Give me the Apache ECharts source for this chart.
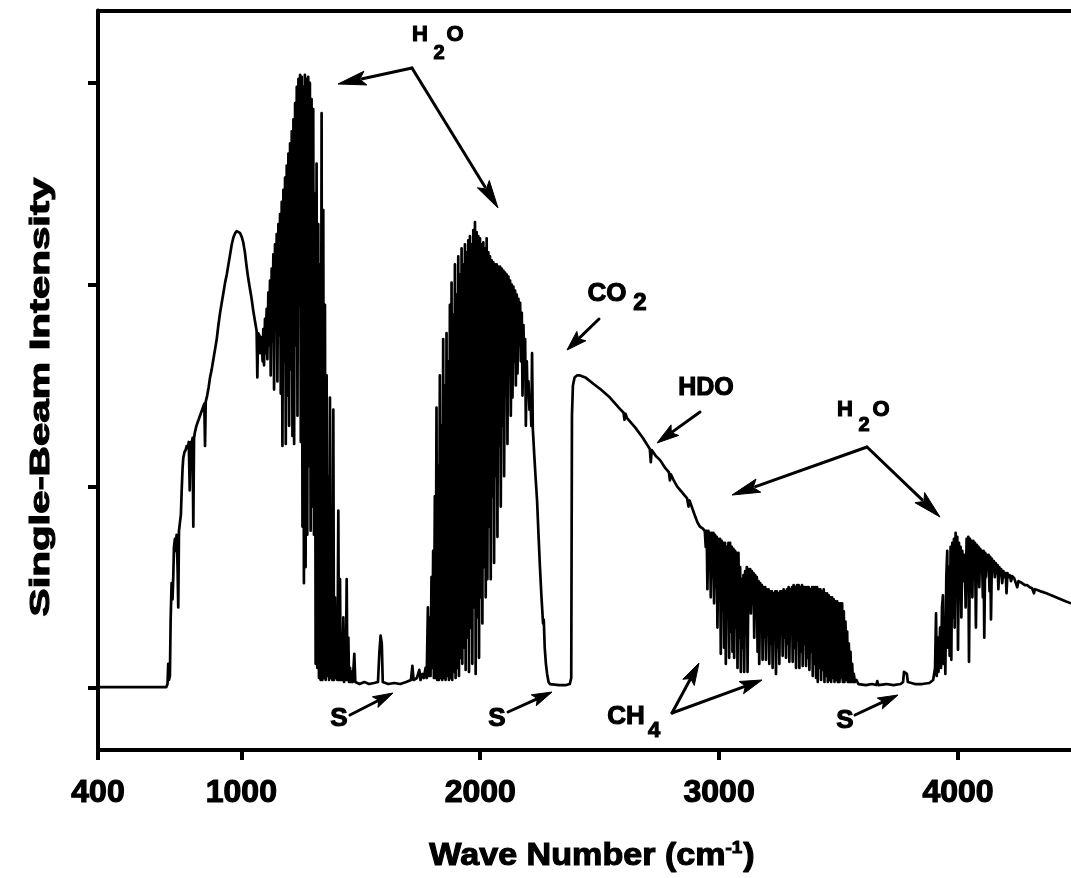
<!DOCTYPE html>
<html>
<head>
<meta charset="utf-8">
<script src="https://cdn.jsdelivr.net/npm/echarts@6/dist/echarts.min.js"></script>
<style>
html,body{margin:0;padding:0;background:#fff;}
#chart{width:1071px;height:878px;}
</style>
</head>
<body>
<div id="chart"></div>
<script>
// ---- data: [wavenumber (cm-1), single-beam intensity] ----
var xTicks = [400, 1000, 2000, 3000, 4000];
var yTicks = [0, 1, 2, 3];

var humpRise = [[400,0.005],[560,0.005],[686,0.005],[691,0.02],[694,0.12],[697,0.04],[701,0.06],[704,0.33],[708,0.52],[712,0.44],[715,0.55],[718,0.70],[722,0.74],[726,0.68],[729,0.76],[733,0.60],[736,0.40],[739,0.78],[743,0.82],[747,0.86],[750,0.97],[754,1.09],[757,1.14],[762,1.17],[767,1.18],[771,1.20],[776,1.19],[780,1.22],[784,0.98],[788,1.22],[792,1.21],[796,1.24],[799,0.80],[802,1.24],[806,1.27],[812,1.30],[818,1.32],[824,1.34],[830,1.36],[836,1.38],[842,1.40],[845,1.41],[848,1.20],[851,1.42],[857,1.45],[863,1.49],[869,1.54],[876,1.58],[883,1.63],[890,1.68],[897,1.73],[904,1.80],[911,1.86],[918,1.91],[925,1.96],[932,2.01],[939,2.05],[946,2.10],[953,2.15],[960,2.20],[967,2.235],[974,2.255],[981,2.265],[988,2.265],[995,2.255],[1002,2.235],[1008,2.21],[1015,2.16],[1022,2.09],[1029,2.03],[1036,1.98],[1043,1.93],[1050,1.87],[1057,1.82],[1064,1.77],[1067,1.54],[1070,1.76],[1075,1.75],[1079,1.66],[1082,1.74],[1086,1.70],[1089,1.62]];

var band1 = [[1092,1.78],[1095,1.60],[1099,1.83],[1102,1.66],[1106,1.88],[1109,1.63],[1113,1.96],[1116,1.70],[1120,2.02],[1123,1.55],[1127,2.08],[1130,1.72],[1134,2.15],[1137,1.48],[1141,2.20],[1144,1.80],[1148,2.25],[1151,1.52],[1155,2.30],[1158,1.75],[1162,2.35],[1165,1.46],[1169,2.41],[1172,1.20],[1176,2.47],[1179,1.62],[1183,2.53],[1186,1.21],[1190,2.59],[1193,1.45],[1197,2.65],[1200,1.30],[1204,2.70],[1207,1.58],[1211,2.76],[1214,1.25],[1218,2.82],[1221,1.21],[1225,2.90],[1228,1.70],[1232,2.98],[1235,1.35],[1239,3.02],[1242,1.90],[1246,3.04],[1249,1.22],[1253,3.03],[1256,0.80],[1259,2.98],[1262,0.52],[1266,3.04],[1269,0.60],[1273,3.02],[1276,0.76],[1280,3.03],[1283,1.10],[1287,3.00],[1290,0.78],[1294,2.92],[1297,0.90],[1301,2.87],[1304,0.76],[1308,2.45],[1311,0.12],[1315,2.60],[1318,0.10],[1322,2.30],[1325,0.05],[1329,2.10],[1332,0.04],[1336,2.85],[1339,0.04],[1343,2.37],[1346,0.05],[1350,1.90],[1353,0.04],[1357,1.55],[1360,0.06],[1364,1.05],[1367,0.04],[1371,1.44],[1374,0.05],[1378,0.60],[1381,0.04],[1385,1.38],[1388,0.04],[1392,0.45],[1395,0.05],[1399,0.30],[1402,0.04],[1406,0.88],[1409,0.04],[1413,0.54],[1416,0.04],[1420,0.20],[1423,0.04],[1427,0.35],[1430,0.03],[1434,0.18],[1437,0.04],[1441,0.54],[1444,0.04],[1448,0.25],[1451,0.03],[1455,0.10],[1458,0.03],[1462,0.08],[1466,0.03]];

var gapA = [[1470,0.03],[1473,0.17],[1477,0.03],[1495,0.02],[1515,0.03],[1535,0.02],[1555,0.025],[1572,0.03],[1578,0.18],[1583,0.26],[1588,0.22],[1592,0.03],[1615,0.02],[1640,0.025],[1665,0.02],[1690,0.03],[1710,0.04],[1716,0.11],[1721,0.04],[1735,0.05],[1745,0.09],[1750,0.04],[1758,0.07],[1764,0.05],[1771,0.10],[1776,0.05],[1781,0.40],[1784,0.06]];

var band2 = [[1789,0.35],[1792,0.06],[1796,0.55],[1799,0.10],[1803,0.68],[1806,0.05],[1810,0.95],[1813,0.05],[1817,1.39],[1820,0.04],[1824,1.10],[1827,0.04],[1831,1.55],[1834,0.05],[1838,1.30],[1841,0.04],[1845,1.73],[1848,0.05],[1852,1.50],[1855,0.04],[1859,1.76],[1862,0.06],[1866,1.62],[1869,0.04],[1873,1.90],[1876,0.05],[1880,2.01],[1883,0.04],[1887,1.85],[1890,0.08],[1894,2.10],[1897,0.05],[1901,1.95],[1904,0.10],[1908,2.14],[1911,0.06],[1915,2.05],[1918,0.15],[1922,2.18],[1925,0.12],[1929,2.10],[1932,0.20],[1936,2.20],[1939,0.09],[1943,2.16],[1946,0.25],[1950,2.22],[1953,0.08],[1957,2.24],[1960,0.30],[1964,2.20],[1967,0.12],[1971,2.27],[1974,0.40],[1978,2.31],[1981,0.07],[1985,2.26],[1988,0.35],[1992,2.24],[1995,0.15],[1999,2.23],[2002,0.45],[2006,2.20],[2009,0.32],[2013,2.21],[2016,0.60],[2020,2.18],[2023,0.45],[2027,2.23],[2030,0.54],[2034,2.16],[2037,0.80],[2041,2.14],[2044,0.54],[2048,2.12],[2051,0.95],[2055,2.11],[2058,0.62],[2062,2.10],[2065,1.05],[2069,2.10],[2072,0.75],[2076,2.09],[2079,1.20],[2083,2.09],[2086,0.90],[2090,2.08],[2093,1.30],[2097,2.07],[2100,1.05],[2104,2.06],[2107,1.45],[2111,2.05],[2114,1.21],[2118,2.04],[2121,1.55],[2125,2.02],[2128,1.35],[2132,2.00],[2135,1.44],[2139,1.99],[2142,1.62],[2146,1.97],[2149,1.50],[2153,1.95],[2156,1.56],[2160,1.93],[2163,1.70],[2167,1.91],[2170,1.62],[2174,1.86],[2177,1.45],[2181,1.80],[2184,1.60],[2188,1.73],[2191,1.30],[2195,1.62],[2198,1.45],[2202,1.52],[2206,1.38],[2210,1.45],[2214,1.30],[2217,1.66],[2220,1.29],[2226,1.16],[2232,1.04],[2238,0.93],[2244,0.76],[2250,0.60],[2256,0.46],[2263,0.32],[2266,0.34],[2270,0.20],[2275,0.12],[2280,0.07],[2286,0.03],[2292,0.02]];

var co2Gap = [[2300,0.015],[2330,0.015],[2360,0.015],[2375,0.02],[2381,0.05]];

var hdoSlope = [[2384,1.35],[2388,1.50],[2395,1.54],[2405,1.55],[2418,1.55],[2440,1.54],[2472,1.51],[2505,1.48],[2543,1.44],[2580,1.39],[2600,1.365],[2604,1.33],[2608,1.36],[2614,1.34],[2650,1.29],[2681,1.24],[2702,1.20],[2710,1.185],[2714,1.12],[2718,1.18],[2735,1.15],[2753,1.13],[2775,1.09],[2790,1.07],[2794,1.03],[2798,1.06],[2810,1.03],[2824,1.00],[2845,0.97],[2866,0.94],[2872,0.90],[2876,0.93],[2891,0.88],[2900,0.85],[2910,0.82],[2920,0.80],[2932,0.79]];

var ch4Band = [[2940,0.78],[2944,0.70],[2948,0.78],[2951,0.49],[2955,0.78],[2958,0.60],[2962,0.77],[2965,0.45],[2969,0.77],[2972,0.55],[2976,0.77],[2979,0.42],[2983,0.76],[2986,0.50],[2990,0.75],[2993,0.30],[2997,0.74],[3000,0.45],[3004,0.74],[3007,0.17],[3011,0.73],[3014,0.40],[3018,0.72],[3021,0.20],[3025,0.72],[3028,0.12],[3032,0.70],[3035,0.35],[3039,0.72],[3042,0.15],[3046,0.72],[3049,0.28],[3053,0.70],[3056,0.18],[3060,0.69],[3063,0.15],[3067,0.68],[3070,0.30],[3074,0.67],[3077,0.10],[3081,0.67],[3084,0.25],[3088,0.60],[3091,0.08],[3095,0.54],[3098,0.20],[3102,0.56],[3105,0.08],[3109,0.58],[3112,0.30],[3116,0.60],[3119,0.08],[3123,0.59],[3126,0.40],[3130,0.59],[3133,0.37],[3137,0.58],[3140,0.42],[3144,0.57],[3147,0.25],[3151,0.56],[3154,0.40],[3158,0.55],[3161,0.18],[3165,0.53],[3168,0.12],[3172,0.52],[3175,0.30],[3179,0.51],[3182,0.14],[3186,0.50],[3189,0.25],[3193,0.50],[3196,0.14],[3200,0.49],[3203,0.30],[3207,0.49],[3210,0.12],[3214,0.48],[3217,0.22],[3221,0.48],[3224,0.10],[3228,0.47],[3231,0.28],[3235,0.48],[3238,0.07],[3242,0.48],[3245,0.20],[3249,0.47],[3252,0.12],[3256,0.48],[3259,0.30],[3263,0.48],[3266,0.16],[3270,0.49],[3273,0.25],[3277,0.48],[3280,0.15],[3284,0.49],[3287,0.22],[3291,0.50],[3294,0.13],[3298,0.49],[3301,0.28],[3305,0.50],[3308,0.13],[3312,0.51],[3315,0.20],[3319,0.50],[3322,0.10],[3326,0.51],[3329,0.24],[3333,0.51],[3336,0.10],[3340,0.50],[3343,0.18],[3347,0.51],[3350,0.11],[3354,0.50],[3357,0.22],[3361,0.50],[3364,0.11],[3368,0.50],[3371,0.15],[3375,0.50],[3378,0.09],[3382,0.49],[3385,0.18],[3389,0.50],[3392,0.06],[3396,0.50],[3399,0.12],[3403,0.50],[3406,0.05],[3410,0.50],[3413,0.03],[3417,0.49],[3420,0.10],[3424,0.49],[3427,0.04],[3431,0.48],[3434,0.09],[3438,0.49],[3441,0.03],[3445,0.47],[3448,0.06],[3452,0.47],[3455,0.03],[3459,0.46],[3462,0.04],[3466,0.45],[3469,0.03],[3473,0.45],[3476,0.05],[3480,0.44],[3483,0.03],[3487,0.43],[3490,0.04],[3494,0.43],[3497,0.03],[3501,0.42],[3504,0.03],[3508,0.42],[3511,0.05],[3515,0.42],[3518,0.03],[3522,0.38],[3525,0.03],[3529,0.33],[3532,0.04],[3536,0.28],[3539,0.03],[3543,0.22],[3546,0.03],[3550,0.18],[3553,0.03],[3557,0.12],[3560,0.03],[3564,0.07],[3568,0.03],[3575,0.04],[3583,0.02]];

var gapB = [[3590,0.02],[3615,0.015],[3640,0.02],[3658,0.015],[3662,0.035],[3666,0.015],[3700,0.02],[3730,0.015],[3760,0.02],[3770,0.03],[3774,0.08],[3782,0.08],[3786,0.07],[3790,0.03],[3820,0.02],[3850,0.02],[3880,0.025],[3896,0.04]];

var band4 = [[3900,0.04],[3904,0.10],[3908,0.37],[3911,0.06],[3915,0.25],[3918,0.08],[3921,0.15],[3925,0.30],[3929,0.10],[3933,0.40],[3937,0.46],[3940,0.12],[3944,0.35],[3947,0.07],[3951,0.55],[3955,0.68],[3958,0.20],[3962,0.60],[3965,0.16],[3969,0.70],[3972,0.14],[3976,0.72],[3979,0.35],[3983,0.74],[3986,0.30],[3990,0.77],[3993,0.55],[3997,0.75],[4000,0.19],[4004,0.72],[4007,0.45],[4011,0.70],[4014,0.35],[4018,0.68],[4021,0.55],[4025,0.53],[4028,0.66],[4032,0.40],[4036,0.74],[4039,0.62],[4043,0.75],[4046,0.13],[4050,0.74],[4053,0.55],[4057,0.73],[4060,0.45],[4064,0.73],[4067,0.60],[4071,0.72],[4075,0.30],[4079,0.71],[4082,0.58],[4086,0.70],[4089,0.50],[4093,0.69],[4096,0.62],[4100,0.68],[4104,0.45],[4107,0.68],[4110,0.25],[4114,0.67],[4117,0.55],[4121,0.66],[4125,0.60],[4128,0.66],[4132,0.48],[4135,0.65],[4138,0.34],[4142,0.64],[4146,0.58],[4150,0.63],[4154,0.55],[4158,0.62],[4162,0.57],[4166,0.61],[4169,0.49],[4173,0.60],[4177,0.56],[4181,0.59],[4185,0.52],[4190,0.58],[4195,0.55],[4200,0.57],[4203,0.47],[4207,0.57],[4212,0.55],[4217,0.56],[4222,0.53],[4227,0.555],[4235,0.545],[4243,0.54],[4248,0.50],[4253,0.53],[4262,0.525],[4270,0.52],[4280,0.51],[4290,0.51],[4300,0.50],[4310,0.495],[4318,0.47],[4322,0.49],[4335,0.485],[4350,0.478],[4370,0.47],[4390,0.46],[4410,0.45],[4430,0.44],[4450,0.43],[4473,0.42]];

var spectrum = [].concat(humpRise, band1, gapA, band2, co2Gap, hdoSlope, ch4Band, gapB, band4);

// ---- annotations (layout, in pixels) ----
var FONT = 'Liberation Sans, Arial, sans-serif';
var measureCtx = document.createElement('canvas').getContext('2d');
function textWidth(s, size) {
  measureCtx.font = 'bold ' + size + 'px ' + FONT;
  return measureCtx.measureText(s).width;
}
function txt(s, x, y, size, extra, align) {
  var el = {
    type: 'text', x: x, y: y, z: 100,
    style: {
      text: s, x: 0, y: 0,
      font: 'bold ' + size + 'px ' + FONT,
      fill: '#000', stroke: '#000', lineWidth: 1.1,
      align: align || 'center', verticalAlign: 'middle',
      textAlign: align || 'center', textVerticalAlign: 'middle'
    }
  };
  if (extra) { for (var k in extra) el[k] = extra[k]; }
  return el;
}
function arrow(x1, y1, x2, y2, hl, hw) {
  var dx = x2 - x1, dy = y2 - y1, L = Math.sqrt(dx * dx + dy * dy);
  var ux = dx / L, uy = dy / L, px = -uy, py = ux;
  var bx = x2 - ux * hl, by = y2 - uy * hl;
  return [
    { type: 'line', z: 100, shape: { x1: x1, y1: y1, x2: bx + ux * 3, y2: by + uy * 3 },
      style: { stroke: '#000', lineWidth: 3, lineCap: 'round' } },
    { type: 'polygon', z: 100, shape: { points: [[x2, y2], [bx + px * hw, by + py * hw], [bx + ux * hl * 0.2, by + uy * hl * 0.2], [bx - px * hw, by - py * hw]] },
      style: { fill: '#000', stroke: '#000', lineWidth: 1 } }
  ];
}

var graphics = [];
// H2O (top)
graphics.push(txt('H', 420, 35, 22), txt('2', 439, 53, 20), txt('O', 455, 35, 22));
graphics = graphics.concat(arrow(412, 68, 338, 84, 28, 7), arrow(412, 68, 498, 208, 28, 7));
// CO2
graphics.push(txt('CO', 607, 294, 26), txt('2', 640, 303, 24));
graphics = graphics.concat(arrow(599, 319, 567, 350, 20, 6.5));
// HDO
graphics.push(txt('HDO', 706, 388, 25));
graphics = graphics.concat(arrow(700, 412, 657, 443, 22, 6.5));
// H2O (right)
graphics.push(txt('H', 845, 410, 22), txt('2', 864, 425, 20), txt('O', 881, 410, 22));
graphics = graphics.concat(arrow(867, 447, 732, 495, 28, 7), arrow(867, 447, 940, 517, 28, 7));
// S markers
graphics.push(txt('S', 339, 719, 26), txt('S', 497, 719, 26), txt('S', 845, 721, 26));
graphics = graphics.concat(arrow(350, 715, 393, 693, 20, 6), arrow(508, 712, 552, 692, 20, 6), arrow(855, 715, 898, 695, 20, 6));
// CH4
graphics.push(txt('CH', 626, 717, 26), txt('4', 654, 731, 22));
graphics = graphics.concat(arrow(672, 713, 699, 663, 22, 6.5), arrow(672, 713, 762, 680, 22, 6.5));
// Y axis title
graphics.push(txt('Single-Beam Intensity', 41, 397, 28, { rotation: Math.PI / 2, scaleX: 1.5 }));
// X axis title with superscript, built from pieces
(function () {
  var big = 31, small = 17, sx = 1.1;
  var p1 = 'Wave Number (cm', p2 = '-1', p3 = ')';
  var w1 = textWidth(p1, big), w2 = textWidth(p2, small) + 1, w3 = textWidth(p3, big);
  var total = (w1 + w2 + w3) * sx;
  var cx = 592, cy = 856;
  var left = cx - total / 2;
  graphics.push({
    type: 'group', x: left, y: cy, scaleX: sx, z: 100,
    children: [
      txt(p1, 0, 0, big, null, 'left'),
      txt(p2, w1, -8, small, null, 'left'),
      txt(p3, w1 + w2, 0, big, null, 'left')
    ]
  });
})();

var chart = echarts.init(document.getElementById('chart'), null, { renderer: 'canvas' });
var axisLineStyle = { color: '#000', width: 4 };
chart.setOption({
  animation: false,
  backgroundColor: '#fff',
  grid: { left: 98, right: 0, top: 10.5, bottom: 128, containLabel: false },
  xAxis: [{
    type: 'value', min: 400, max: 4473, position: 'bottom',
    axisLine: { show: true, onZero: false, lineStyle: axisLineStyle },
    axisTick: { show: true, inside: false, length: 10, lineStyle: { color: '#000', width: 4 }, customValues: xTicks },
    axisLabel: {
      show: true, customValues: xTicks, margin: 27, color: '#000',
      fontFamily: FONT, fontWeight: 'bold', fontSize: 32,
      textBorderColor: '#000', textBorderWidth: 1.2,
      formatter: function (v) { return String(v); }
    },
    splitLine: { show: false }
  }, {
    type: 'value', min: 400, max: 4473, position: 'top',
    axisLine: { show: true, onZero: false, lineStyle: axisLineStyle },
    axisTick: { show: false }, axisLabel: { show: false }, splitLine: { show: false }
  }],
  yAxis: {
    type: 'value', min: -0.307, max: 3.359,
    axisLine: { show: true, onZero: false, lineStyle: axisLineStyle },
    axisTick: { show: true, inside: false, length: 10, lineStyle: { color: '#000', width: 4 }, customValues: yTicks },
    axisLabel: { show: false },
    splitLine: { show: false }
  },
  series: [{
    type: 'line', xAxisIndex: 0, data: spectrum,
    showSymbol: false, symbol: 'none', smooth: false,
    lineStyle: { color: '#000', width: 2.7, join: 'round', cap: 'round' },
    silent: true
  }],
  graphic: graphics
});
</script>
</body>
</html>
